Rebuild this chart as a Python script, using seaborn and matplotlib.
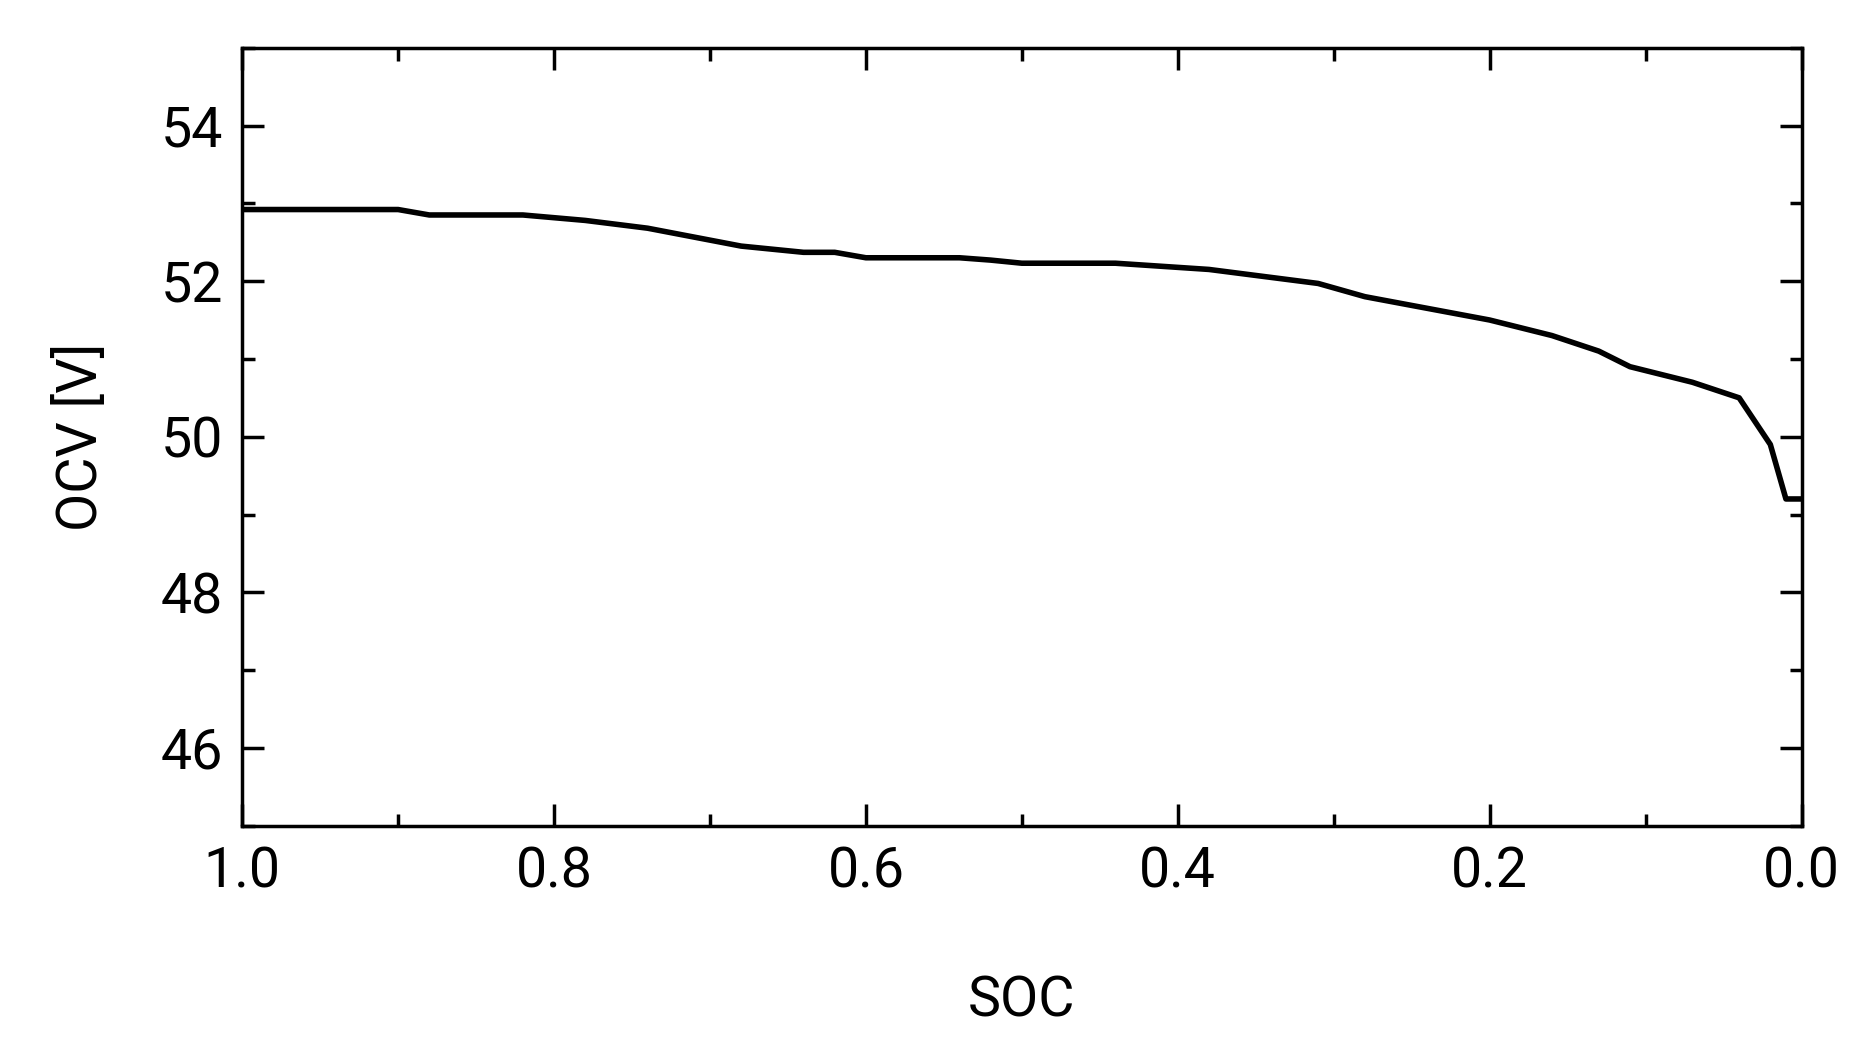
import matplotlib
matplotlib.use("Agg")
import matplotlib.pyplot as plt
from matplotlib.ticker import MultipleLocator
import seaborn as sns
import pandas as pd

sns.set_style('ticks')
plt.rcParams['font.family'] = ['Roboto', 'DejaVu Sans']
plt.rcParams['text.color'] = 'black'
plt.rcParams['axes.labelcolor'] = 'black'

soc = [1.0, 0.9, 0.88, 0.82, 0.78, 0.74, 0.68, 0.64, 0.62, 0.60, 0.54, 0.52, 0.50,
       0.44, 0.38, 0.31, 0.28, 0.20, 0.16, 0.13, 0.11, 0.07, 0.04, 0.02, 0.01, 0.0]
ocv = [52.92, 52.92, 52.85, 52.85, 52.78, 52.68, 52.45, 52.37, 52.37, 52.30, 52.30, 52.27, 52.23,
       52.23, 52.15, 51.97, 51.80, 51.50, 51.30, 51.10, 50.90, 50.70, 50.50, 49.90, 49.20, 49.20]

df = pd.DataFrame({"SOC": soc, "OCV": ocv})

fig = plt.figure(figsize=(18.63, 10.6), dpi=100)
ax = fig.add_axes([0.130, 0.221, 0.837, 0.734])
sns.lineplot(data=df, x="SOC", y="OCV", ax=ax, color='black', lw=4)

ax.set_xlim(1.0, 0.0)
ax.set_ylim(45, 55)
ax.xaxis.set_major_locator(MultipleLocator(0.2))
ax.xaxis.set_minor_locator(MultipleLocator(0.1))
ax.yaxis.set_major_locator(MultipleLocator(2))
ax.yaxis.set_minor_locator(MultipleLocator(1))
ax.tick_params(which='both', direction='in', top=True, right=True, width=2.5,
               labelsize=40, pad=14, colors='black')
ax.tick_params(which='major', length=16)
ax.tick_params(which='minor', length=9)
for s in ax.spines.values():
    s.set_linewidth(2.5)
    s.set_color('black')
ax.set_xlabel("SOC", fontsize=40, labelpad=55)
ax.set_ylabel("OCV [V]", fontsize=40, labelpad=38)

fig.savefig("out.png", dpi=100, facecolor='white')
